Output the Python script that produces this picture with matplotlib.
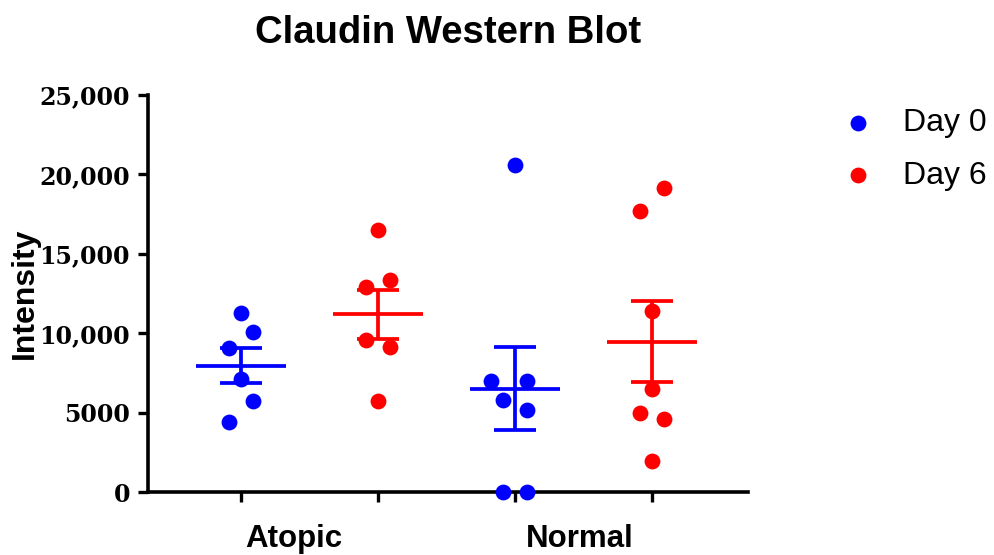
import numpy as np
import matplotlib
matplotlib.use('Agg')
import matplotlib.pyplot as plt

groups = ['Atopic', 'Normal']
days = ['Day 0', 'Day 6']
colors = {'Day 0': '#0000FF', 'Day 6': '#FF0000'}

atopic_day0 = [11300, 10100, 9100, 7100, 5700, 4400]
atopic_day6 = [16500, 12900, 13350, 9550, 9150, 5700]
normal_day0 = [20600, 7000, 7000, 5800, 5150, 0, 0]
normal_day6 = [19150, 17700, 11400, 6500, 4950, 4600, 1950]

yticks = [0, 5000, 10000, 15000, 20000, 25000]
ytick_labels = ['0', '5000', '10,000', '15,000', '20,000', '25,000']

# horizontal scatter of the dots (layout only, in x units)
d = 0.088
offsets = [
    [0, d, -d, 0, d, -d],
    [0, -d, d, -d, d, 0],
    [0, -2 * d, d, -d, d, -d, d],
    [d, -d, 0, 0, -d, d, 0],
]

series = [(atopic_day0, 'Day 0'), (atopic_day6, 'Day 6'),
          (normal_day0, 'Day 0'), (normal_day6, 'Day 6')]

fig = plt.figure(figsize=(9.94, 5.55), dpi=100)
ax = fig.add_axes([0.1489, 0.1135, 0.6036, 0.7153])

seen = set()
for i, ((vals, day), offs) in enumerate(zip(series, offsets)):
    x0 = i + 1
    vals = np.array(vals, dtype=float)
    c = colors[day]
    lab = day if day not in seen else None
    seen.add(day)
    ax.scatter(x0 + np.array(offs), vals, s=130, color=c, zorder=3,
               linewidths=0, label=lab, clip_on=False)
    m = vals.mean()
    sem = vals.std(ddof=1) / np.sqrt(len(vals))
    ax.hlines(m, x0 - 0.33, x0 + 0.33, color=c, lw=2.7, zorder=4)
    ax.errorbar(x0, m, yerr=sem, fmt='none', ecolor=c, elinewidth=2.7,
                capsize=15, capthick=2.7, zorder=4)

ax.set_xlim(0.321, 4.70)
ax.set_ylim(0, 25000)
ax.set_xticks([1, 2, 3, 4])
ax.set_xticklabels([])
ax.set_yticks(yticks)
ax.set_yticklabels(ytick_labels, family='DejaVu Serif', fontweight='bold',
                   fontsize=17)
ax.tick_params(axis='both', width=2.4, length=7, direction='out', pad=6)
for s in ['top', 'right']:
    ax.spines[s].set_visible(False)
for s in ['left', 'bottom']:
    ax.spines[s].set_linewidth(2.6)

fig.text(448 / 994, 1 - 43 / 555, 'Claudin Western Blot', ha='center',
         va='baseline', fontsize=27.5, fontweight='bold', family='Liberation Sans')
fig.text(25 / 994, 1 - 293 / 555, 'Intensity', rotation=90, ha='center',
         va='center', fontsize=23, fontweight='bold', family='Liberation Sans')
for name, xc in zip(groups, [294, 580]):
    fig.text(xc / 994, 8 / 555, name, ha='center', va='baseline',
             fontsize=22.5, fontweight='bold', family='Liberation Sans')

fig.legend(loc='upper left', bbox_to_anchor=(842 / 994, 1 - 108.5 / 555),
           frameon=False, borderpad=0, borderaxespad=0, handlelength=1.0,
           handletextpad=0.9, labelspacing=0.69,
           prop={'family': 'Liberation Sans', 'size': 23})

fig.savefig('out.png', dpi=100)
